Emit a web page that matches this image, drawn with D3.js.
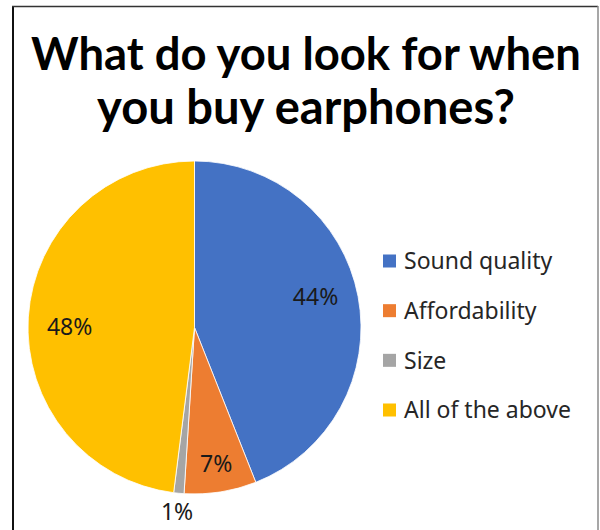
<!DOCTYPE html>
<html>
<head>
<meta charset="utf-8">
<script src="https://cdn.jsdelivr.net/npm/d3@7"></script>
<style>
  html, body { margin: 0; padding: 0; background: #fff; }
  svg { display: block; }
</style>
</head>
<body>
<svg id="chart" width="600" height="530"></svg>
<script>
// Survey answers: share of respondents per choice (percent)
const categories = ["Sound quality", "Affordability", "Size", "All of the above"];
const shares = [44, 7, 1, 48];
const sliceColors = ["#4472C4", "#ED7D31", "#A5A5A5", "#FFC000"];
const titleLines = ["What do you look for when", "you buy earphones?"];

const W = 600, H = 530;
const svg = d3.select("#chart");
const titleFont = "Lato, 'Noto Sans', sans-serif";
const bodyFont = "'Noto Sans', 'Open Sans', sans-serif";

// Chart frame
svg.append("line").attr("x1", 13).attr("y1", 6).attr("x2", 13).attr("y2", H)
  .attr("stroke", "#111").attr("stroke-width", 2);
svg.append("line").attr("x1", 12).attr("y1", 6.5).attr("x2", 598).attr("y2", 6.5)
  .attr("stroke", "#333").attr("stroke-width", 1.5);
svg.append("line").attr("x1", 598).attr("y1", 6).attr("x2", 598).attr("y2", H)
  .attr("stroke", "#8a8a8a").attr("stroke-width", 1.5);

// Title, two centred lines; each sized to its target span
const titleSpans = [550, 418];
const title = svg.append("g").selectAll("text").data(titleLines).join("text")
  .attr("x", 306)
  .attr("y", (d, i) => 70 + i * 54)
  .attr("text-anchor", "middle")
  .attr("font-family", titleFont)
  .attr("font-weight", 700)
  .attr("font-size", 50)
  .attr("fill", "#000")
  .text(d => d);
title.each(function(d, i) {
  const len = this.getComputedTextLength();
  d3.select(this).attr("font-size", Math.min(52, 50 * titleSpans[i] / len));
});

// Pie
const cx = 194.5, cy = 327.5, R = 166.5;
const pie = d3.pie().sort(null).value(d => d);
const arcs = pie(shares);
const arc = d3.arc().innerRadius(0).outerRadius(R);
const color = d3.scaleOrdinal().domain(categories).range(sliceColors);

const g = svg.append("g").attr("transform", `translate(${cx},${cy})`);
g.selectAll("path").data(arcs).join("path")
  .attr("d", arc)
  .attr("fill", (d, i) => color(categories[i]))
  .attr("stroke", "#fff")
  .attr("stroke-width", 0.8);

// Percentage labels: large slices inside, tiny slices just outside the rim
const labelRadius = v => v < 3 ? R * 1.11 : v < 10 ? R * 0.83 : R * 0.75;
g.selectAll("text.pct").data(arcs).join("text")
  .attr("class", "pct")
  .attr("transform", d => {
    const r = labelRadius(d.data);
    const a = (d.startAngle + d.endAngle) / 2 - (d.data > 10 ? 0.06 : 0);
    return `translate(${Math.sin(a) * r},${-Math.cos(a) * r})`;
  })
  .attr("text-anchor", "middle")
  .attr("dy", "0.36em")
  .attr("font-family", bodyFont)
  .attr("font-size", 23)
  .attr("fill", "#1a1a1a")
  .text(d => d.data + "%");

// Legend
const legendY = d3.scalePoint().domain(categories).range([261, 410]);
const lg = svg.append("g");
const item = lg.selectAll("g").data(categories).join("g")
  .attr("transform", d => `translate(383,${legendY(d)})`);
item.append("rect")
  .attr("x", 0).attr("y", -6.5).attr("width", 13).attr("height", 13)
  .attr("fill", d => color(d));
item.append("text")
  .attr("x", 21).attr("dy", "0.36em")
  .attr("font-family", bodyFont)
  .attr("font-size", 23)
  .attr("fill", "#262626")
  .text(d => d);
</script>
</body>
</html>
